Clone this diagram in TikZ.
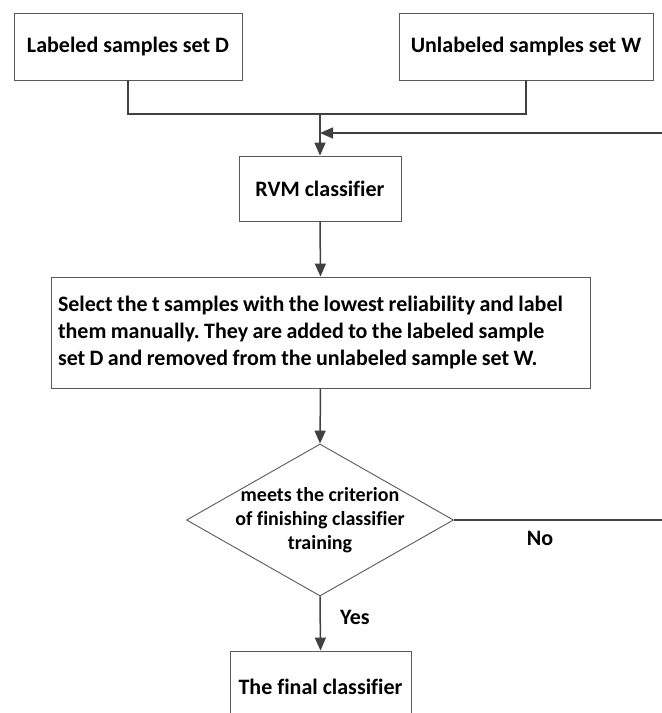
\documentclass[tikz,border=0pt]{standalone}
\usepackage{fontspec}
\setmainfont{Carlito}[Ligatures=NoCommon]
\usetikzlibrary{arrows.meta,shapes.geometric}
\definecolor{linec}{HTML}{404040}
\definecolor{boxc}{HTML}{5A5A5A}
\tikzset{
  box/.style={draw=boxc, line width=0.9pt, rectangle, inner sep=0pt, align=center,
    font=\fontsize{22}{27}\selectfont\bfseries},
  diam/.style={draw=boxc, line width=0.9pt, diamond, inner sep=0pt,
    minimum width=267pt, minimum height=152pt},
  conn/.style={draw=linec, line width=1.5pt},
  arr/.style={conn, -{Triangle[width=11pt,length=13pt]}},
  lbl/.style={font=\fontsize{22}{27}\selectfont\bfseries, inner sep=0pt},
  dtext/.style={font=\fontsize{20}{24}\selectfont\bfseries, inner sep=0pt, align=center}
}
\begin{document}
\begin{tikzpicture}[x=1pt,y=-1pt]
\useasboundingbox (0,0) rectangle (662,713);
\clip (0,0) rectangle (662,713);
\fill[white] (0,0) rectangle (662,713);
\node[box, minimum width=228pt, minimum height=67pt] (D) at (128,46.5) {Labeled samples set D};
\node[box, minimum width=254pt, minimum height=67pt] (W) at (526,46.5) {Unlabeled samples set W};
\node[box, minimum width=162pt, minimum height=65pt] (RVM) at (320,188.5) {RVM classifier};
\node[box, minimum width=539pt, minimum height=111pt, inner xsep=7pt, text width=525pt, align=left,
  execute at begin node={\frenchspacing\hyphenpenalty=10000\spaceskip=0.2em plus 0.05em minus 0.05em}] (S) at (320.5,332.5)
  {Select the t samples with the lowest reliability and label\\them manually. They are added to the labeled sample\\set D and removed from the unlabeled sample set W.};
\node[diam] (dec) at (320,520) {};
\node[dtext] (dect) at (dec.center) {meets the criterion\\of finishing classifier\\training};
\node[box, minimum width=181pt, minimum height=72pt] (F) at (320.5,687) {The final classifier};
\coordinate (J) at (320,114);
\coordinate (R1) at (668,133);
\coordinate (R2) at (668,520);
\draw[conn] (D.south) |- (J) -| (W.south);
\draw[arr] (J) -- (RVM.north);
\draw[arr] (dec.east) -- (R2) -- (R1) -- (J |- R1);
\draw[arr] (RVM.south) -- (S.north);
\draw[arr] (S.south) -- (dec.north);
\draw[arr] (dec.south) -- (F.north);
\node[lbl] (yes) at (355,617) {Yes};
\node[lbl] (no) at (540,538) {No};
\end{tikzpicture}
\end{document}
